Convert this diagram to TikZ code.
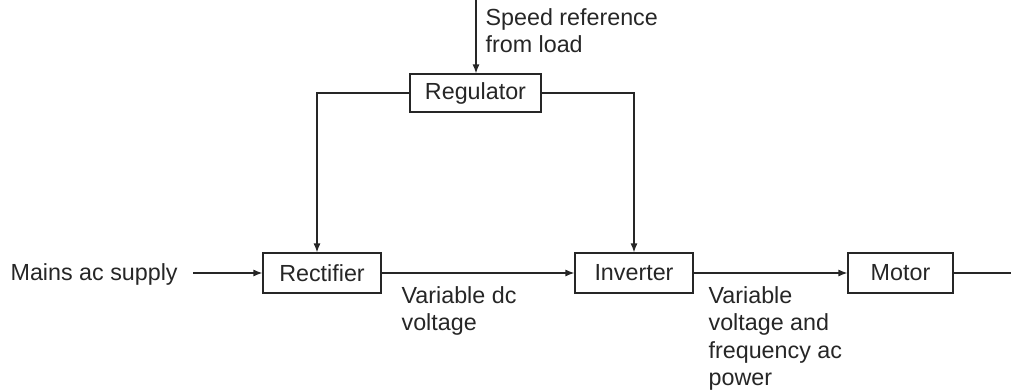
\documentclass[tikz,border=0pt]{standalone}
\usepackage{fontspec}
\setmainfont{Liberation Sans}
\usepackage{tikz}
\usetikzlibrary{arrows.meta,positioning}

\begin{document}
\begin{tikzpicture}[x=1pt,y=-1pt, line width=1.2pt, draw=black!85,
  every node/.style={font=\fontsize{23.3}{27.5}\selectfont,text=black!85},
  blockbox/.style={draw,line width=1.2pt,minimum height=40pt,inner sep=0pt},
  lbl/.style={align=left,inner sep=0pt,anchor=north west},
  arr/.style={-{Latex[length=9pt,width=7pt]}}]
\useasboundingbox (0,0) rectangle (1011,391);
\node[blockbox,minimum width=131pt,minimum height=38pt] (reg) at (475.5,93) {Regulator};
\node[blockbox,minimum width=118pt] (rect) at (322,273) {Rectifier};
\node[blockbox,minimum width=118pt] (inv) at (634,273) {Inverter};
\node[blockbox,minimum width=105pt] (mot) at (900.5,273) {Motor};
\node[lbl] (ref) at (485,8) {Speed reference\\from load};
\node[inner sep=0pt,anchor=base west] (mains) at (10,280) {Mains ac supply};
\node[lbl] (dclbl) at (401,286) {Variable dc\\voltage};
\node[lbl] (aclbl) at (708,286) {Variable\\voltage and\\frequency ac\\power};
\coordinate (reftop) at (476,0);
\coordinate (mainsend) at (193,273);
\coordinate (shaft) at (1011,273);
% connectors
\draw[arr] (reftop) -- (reftop |- reg.north);
\draw[arr] (reg.west) -| ([xshift=-5pt]rect.north);
\draw[arr] (reg.east) -| (inv.north);
\draw[arr] (mainsend) -- (rect.west);
\draw[arr] (rect) -- (inv);
\draw[arr] (inv) -- (mot);
\draw (mot.east) -- (shaft);
\end{tikzpicture}
\end{document}
